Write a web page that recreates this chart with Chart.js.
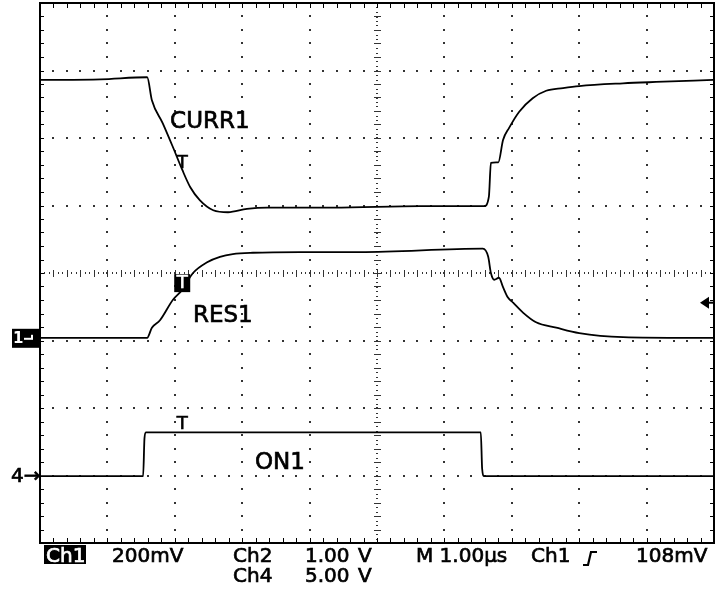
<!DOCTYPE html>
<html>
<head>
<meta charset="utf-8">
<script src="https://cdn.jsdelivr.net/npm/chart.js@4/dist/chart.umd.min.js"></script>
<style>
  html, body { margin: 0; padding: 0; background: #fff; }
  canvas { display: block; }
</style>
</head>
<body>
<canvas id="scope" width="716" height="589"></canvas>
<script>
// screen is 10 x 8 divisions, time axis 1.00 us/div
const curr1X = [0, 0.9, 1.59, 1.66, 1.82, 1.97, 2.11, 2.23, 2.37, 2.57, 2.79, 3.07, 3.37, 4.35, 5.64, 6.59, 6.66, 6.69, 6.8, 6.87, 6.96, 7.11, 7.31, 7.51, 7.76, 8.0, 8.65, 9.14, 9.99];
const curr1Y = [6.86, 6.87, 6.9, 6.56, 6.22, 5.87, 5.53, 5.27, 5.08, 4.93, 4.9, 4.95, 4.97, 4.97, 4.99, 4.99, 5.13, 5.63, 5.64, 5.97, 6.15, 6.39, 6.59, 6.7, 6.74, 6.77, 6.81, 6.83, 6.86];

const res1X = [0, 1.59, 1.66, 1.78, 1.97, 2.11, 2.27, 2.48, 2.67, 2.86, 3.16, 3.86, 4.75, 6.57, 6.65, 6.69, 6.74, 6.81, 6.87, 6.94, 7.02, 7.17, 7.36, 7.66, 8.0, 8.65, 9.63, 9.99];
const res1Y = [3.04, 3.04, 3.19, 3.3, 3.6, 3.75, 4.0, 4.16, 4.24, 4.28, 4.3, 4.31, 4.31, 4.36, 4.24, 4.0, 3.9, 3.93, 3.79, 3.64, 3.56, 3.41, 3.27, 3.19, 3.11, 3.05, 3.04, 3.04];

const on1X = [0, 1.53, 1.55, 1.57, 6.54, 6.56, 6.59, 9.99];
const on1Y = [0.99, 0.99, 1.55, 1.64, 1.64, 1.1, 0.99, 0.99];

const traceNames = ["CURR1", "RES1", "ON1"];
const statusRow1 = ["200mV", "Ch2", "1.00", "V", "M 1.00\u00b5s", "Ch1", "108mV"];
const statusRow2 = ["Ch4", "5.00", "V"];

const toPoints = (xs, ys) => xs.map((x, i) => ({ x: x, y: ys[i] }));

// heavier text like the scope's bitmap font
function heavyText(ctx, s, px, py) {
  ctx.fillText(s, px, py);
  ctx.strokeText(s, px, py);
}

const scopeScreen = {
  id: "scopeScreen",
  beforeDatasetsDraw(chart) {
    const { ctx, chartArea: a, scales: { x, y } } = chart;
    ctx.save();
    ctx.fillStyle = "#333";
    // dotted graticule
    for (let i = 1; i < 10; i++) {
      if (i === 5) continue;
      const px = Math.round(x.getPixelForValue(i));
      for (let k = 1; k < 40; k++) {
        ctx.fillRect(px - 1, Math.round(y.getPixelForValue(k * 0.2)) - 1, 2, 2);
      }
    }
    for (let j = 1; j < 8; j++) {
      if (j === 4) continue;
      const py = Math.round(y.getPixelForValue(j));
      for (let k = 1; k < 50; k++) {
        ctx.fillRect(Math.round(x.getPixelForValue(k * 0.2)) - 1, py - 1, 2, 2);
      }
    }
    // centre cross with minor ticks
    const cx = Math.round(x.getPixelForValue(5));
    const cy = Math.round(y.getPixelForValue(4));
    for (let k = 1; k < 120; k++) {
      ctx.fillRect(cx - 1, Math.round(y.getPixelForValue(k / 15)), 2, 1);
    }
    for (let k = 1; k < 150; k++) {
      ctx.fillRect(Math.round(x.getPixelForValue(k / 15)), cy - 1, 1, 2);
    }
    for (let k = 1; k < 40; k++) {
      ctx.fillRect(cx - 3, Math.round(y.getPixelForValue(k * 0.2)), 7, 1);
    }
    for (let k = 1; k < 50; k++) {
      ctx.fillRect(Math.round(x.getPixelForValue(k * 0.2)), cy - 3, 1, 7);
    }
    ctx.restore();
  },
  afterDatasetsDraw(chart) {
    const { ctx, chartArea: a, scales: { x, y } } = chart;
    ctx.save();
    // frame + edge ticks
    ctx.strokeStyle = "#000";
    ctx.lineWidth = 2;
    ctx.strokeRect(a.left, a.top, a.width, a.height);
    ctx.fillStyle = "#000";
    for (let k = 1; k < 50; k++) {
      const px = Math.round(x.getPixelForValue(k * 0.2));
      ctx.fillRect(px, a.top, 1, 5);
      ctx.fillRect(px, a.bottom - 5, 1, 5);
    }
    for (let k = 1; k < 40; k++) {
      const py = Math.round(y.getPixelForValue(k * 0.2));
      ctx.fillRect(a.left, py, 4, 1);
      ctx.fillRect(a.right - 4, py, 4, 1);
    }

    ctx.lineWidth = 0.7;
    // trace labels
    ctx.font = '23px "DejaVu Sans"';
    ctx.textBaseline = "middle";
    ctx.textAlign = "left";
    heavyText(ctx, traceNames[0], x.getPixelForValue(1.93), y.getPixelForValue(6.24));
    heavyText(ctx, traceNames[1], x.getPixelForValue(2.27), y.getPixelForValue(3.36));
    heavyText(ctx, traceNames[2], x.getPixelForValue(3.19), y.getPixelForValue(1.19));

    // trigger point markers
    ctx.font = '18px "DejaVu Sans"';
    ctx.textAlign = "center";
    const tx = x.getPixelForValue(2.11);
    heavyText(ctx, "T", tx, y.getPixelForValue(5.63));
    heavyText(ctx, "T", tx, y.getPixelForValue(1.76));
    const ry = y.getPixelForValue(3.85);
    ctx.fillRect(tx - 8, ry - 9, 16, 18);
    ctx.fillStyle = "#fff";
    ctx.strokeStyle = "#fff";
    heavyText(ctx, "T", tx, ry);

    // channel reference markers
    ctx.fillStyle = "#000";
    const g1 = y.getPixelForValue(3.04);
    ctx.fillRect(a.left - 28, g1 - 9, 28, 19);
    ctx.fillStyle = "#fff";
    ctx.textAlign = "left";
    ctx.font = 'bold 15px "DejaVu Sans"';
    ctx.fillText("1", a.left - 27, g1 + 1);
    ctx.fillRect(a.left - 16, g1, 7, 2);
    ctx.fillRect(a.left - 9, g1 - 3, 2, 5);
    ctx.fillStyle = "#000";
    ctx.strokeStyle = "#000";
    ctx.font = '20px "DejaVu Sans"';
    heavyText(ctx, "4\u2192", a.left - 29, y.getPixelForValue(0.99) + 1);

    // trigger level arrow on the right edge
    const tl = y.getPixelForValue(3.56);
    ctx.beginPath();
    ctx.moveTo(a.right - 14, tl);
    ctx.lineTo(a.right - 5, tl - 6);
    ctx.lineTo(a.right - 5, tl + 6);
    ctx.closePath();
    ctx.fill();
    ctx.fillRect(a.right - 6, tl - 1, 6, 2);

    // status bar
    const b1 = a.bottom + 19;
    const b2 = a.bottom + 39;
    ctx.textBaseline = "alphabetic";
    ctx.font = '20px "DejaVu Sans"';
    ctx.fillRect(a.left + 4, a.bottom + 2, 42, 19);
    ctx.fillStyle = "#fff";
    ctx.strokeStyle = "#fff";
    heavyText(ctx, "Ch1", a.left + 6, b1);
    ctx.fillStyle = "#000";
    ctx.strokeStyle = "#000";
    heavyText(ctx, statusRow1[0], 112, b1);
    heavyText(ctx, statusRow1[1], 233, b1);
    heavyText(ctx, statusRow1[2], 305, b1);
    heavyText(ctx, statusRow1[3], 358, b1);
    heavyText(ctx, statusRow1[4], 416, b1);
    heavyText(ctx, statusRow1[5], 531, b1);
    heavyText(ctx, statusRow1[6], 636, b1);
    heavyText(ctx, statusRow2[0], 233, b2);
    heavyText(ctx, statusRow2[1], 305, b2);
    heavyText(ctx, statusRow2[2], 358, b2);

    // rising edge trigger symbol
    ctx.lineWidth = 2.2;
    ctx.beginPath();
    ctx.moveTo(583, b1 + 3);
    ctx.lineTo(588, b1 + 3);
    ctx.lineTo(591, b1 - 10);
    ctx.lineTo(597, b1 - 10);
    ctx.stroke();
    ctx.restore();
  }
};

const lineStyle = {
  borderColor: "#000",
  borderWidth: 1.8,
  pointRadius: 0,
  cubicInterpolationMode: "monotone",
  showLine: true,
  fill: false
};

new Chart(document.getElementById("scope").getContext("2d"), {
  type: "scatter",
  data: {
    datasets: [
      Object.assign({ label: traceNames[0], data: toPoints(curr1X, curr1Y) }, lineStyle),
      Object.assign({ label: traceNames[1], data: toPoints(res1X, res1Y) }, lineStyle),
      Object.assign({ label: traceNames[2], data: toPoints(on1X, on1Y) }, lineStyle)
    ]
  },
  options: {
    responsive: false,
    animation: false,
    devicePixelRatio: 1,
    layout: { padding: { left: 40, top: 3, right: 2, bottom: 46 } },
    plugins: { legend: { display: false }, tooltip: { enabled: false } },
    scales: {
      x: {
        type: "linear", min: 0, max: 10,
        ticks: { display: false },
        grid: { display: false },
        border: { display: false },
        afterFit: (s) => { s.height = 0; }
      },
      y: {
        type: "linear", min: 0, max: 8,
        ticks: { display: false },
        grid: { display: false },
        border: { display: false },
        afterFit: (s) => { s.width = 0; }
      }
    }
  },
  plugins: [scopeScreen]
});
</script>
</body>
</html>
